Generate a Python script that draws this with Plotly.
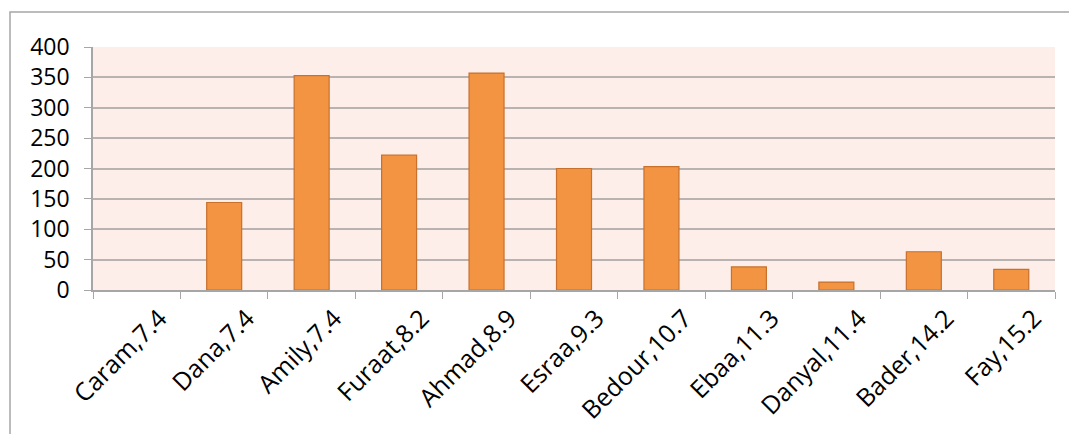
import plotly.graph_objects as go

# names with their ages, and the bar values
names = ["Caram", "Dana", "Amily", "Furaat", "Ahmad", "Esraa",
         "Bedour", "Ebaa", "Danyal", "Bader", "Fay"]
ages = ["7.4", "7.4", "7.4", "8.2", "8.9", "9.3",
        "10.7", "11.3", "11.4", "14.2", "15.2"]
values = [0, 144, 353, 222, 357, 200, 203, 38, 13, 63, 34]

y_ticks = [0, 50, 100, 150, 200, 250, 300, 350, 400]

categories = [f"{n},{a}" for n, a in zip(names, ages)]
idx = list(range(len(categories)))

# page body has an 8px margin, so the figure is placed 8px in
W, H = 1077, 434
L, R, T, B = 85, 30, 39, 152
pw, ph = W - L - R, H - T - B

fig = go.Figure()
fig.add_trace(go.Bar(
    x=idx,
    y=values,
    width=0.4,
    marker=dict(color="#F39443",
                line=dict(color="#C8702C",
                          width=[1.2 if v > 0 else 0 for v in values])),
))

fig.update_layout(
    width=W, height=H,
    margin=dict(l=L, r=R, t=T, b=B),
    paper_bgcolor="white",
    plot_bgcolor="#FDEEEA",
    showlegend=False,
    font=dict(family="Open Sans", size=23, color="black"),
    shapes=[dict(
        type="rect", xref="paper", yref="paper",
        x0=(2 - L) / pw, x1=(W + 20 - L) / pw,
        y0=-(B + 20) / ph, y1=1 + (T - 4) / ph,
        line=dict(color="#A6A6A6", width=1.5),
        fillcolor="rgba(0,0,0,0)", layer="below",
    )],
)
# labels nudged right of the bar centre like Excel; tick marks on boundaries
fig.update_xaxes(
    range=[-0.5, len(idx) - 0.5],
    automargin=False,
    tickmode="array",
    tickvals=[i + 0.26 for i in idx],
    ticktext=categories,
    tickangle=-45,
    ticks="",
    minor=dict(tickmode="linear", tick0=-0.5, dtick=1, ticks="outside",
               ticklen=7, tickcolor="#A6A6A6", tickwidth=1, showgrid=False),
    showline=True, linecolor="#A6A6A6", linewidth=1.5,
    showgrid=False, zeroline=False,
    ticklabelstandoff=2,
    tickfont=dict(size=25),
)
fig.update_yaxes(
    range=[0, 400],
    automargin=False,
    tickvals=y_ticks,
    ticks="outside", ticklen=7, tickcolor="#A6A6A6",
    showline=True, linecolor="#A6A6A6", linewidth=1.5,
    showgrid=True, gridcolor="#B8B2B0", gridwidth=1.5,
    zeroline=False,
    ticklabelstandoff=10,
    tickfont=dict(size=23),
)

fig.write_html("out.html")
